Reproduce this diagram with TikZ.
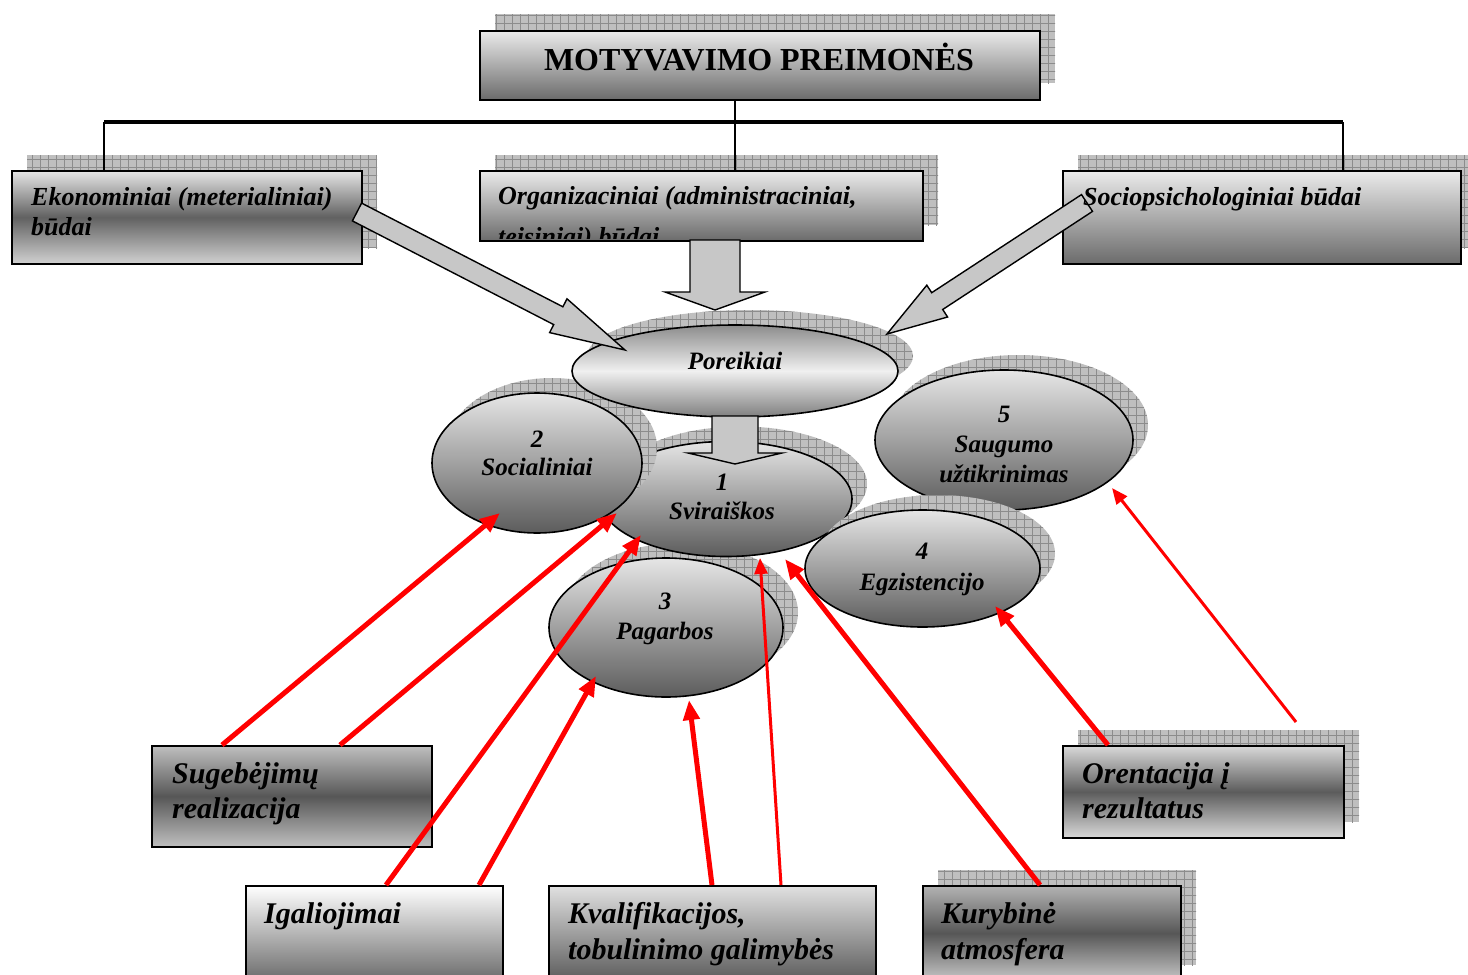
\documentclass[tikz,border=0pt]{standalone}
\usepackage{fontspec}
\setmainfont{Liberation Serif}
\usetikzlibrary{shapes.geometric,arrows.meta,patterns.meta,calc}
\begin{document}
\begin{tikzpicture}[x=1pt,y=-1pt,
  shadowfill/.style={fill=black!25, postaction={pattern={Hatch[distance=8pt,line width=0.5pt]}, pattern color=black!45}},
  boxnode/.style={rectangle, draw=black, line width=1.6pt, inner sep=0pt, anchor=north west},
  fadedown/.style={top color=black!8, bottom color=black!58},
  ell/.style={ellipse, draw=black, line width=1.6pt, inner sep=0pt, top color=black!10, bottom color=black!64},
  boxtxt/.style={anchor=base west, inner sep=0pt, font=\fontsize{26}{30}\selectfont\bfseries\itshape},
  bigtxt/.style={anchor=base west, inner sep=0pt, font=\fontsize{30}{36}\selectfont\bfseries\itshape},
  elltxt/.style={anchor=base, inner sep=0pt, font=\fontsize{25}{30}\selectfont\bfseries\itshape},
  blockarrow/.style={draw=black, line width=1.4pt, fill=black!22, line join=miter},
  redthick/.style={draw=red, line width=5pt, -{Triangle[length=20pt,width=16pt]}},
  redthin/.style={draw=red, line width=3pt, -{Triangle[length=16pt,width=13pt]}},
  bus/.style={draw=black, line width=4pt},
  drop/.style={draw=black, line width=2.6pt},
]
\useasboundingbox (0,0) rectangle (1468,975);
\clip (0,0) rectangle (1468,975);
\fill[white] (0,0) rectangle (1468,975);

% ---------- shadows of the upper boxes
\path[shadowfill] (495,14) rectangle (1055,83);
\path[shadowfill] (27,155) rectangle (377,248);
\path[shadowfill] (495,155) rectangle (938,225);
\path[shadowfill] (1078,155) rectangle (1476,248);

% ---------- upper boxes
\node[boxnode, fadedown, minimum width=560pt, minimum height=69pt] (title) at (479,30) {};
\node[boxnode, top color=black!10, bottom color=black!18, middle color=black!62, minimum width=350pt, minimum height=93pt] (eko) at (11,170) {};
\node[boxnode, fadedown, minimum width=443pt, minimum height=70pt] (org) at (479,170) {};
\node[boxnode, fadedown, minimum width=398pt, minimum height=93pt] (soc) at (1062,170) {};

% ---------- tree connectors
\coordinate (busL) at (104,122);
\coordinate (busM) at (735,122);
\coordinate (busR) at (1343,122);
\draw[line width=1.5pt] (busM |- title.south) -- (busM);
\draw[bus] (busL) -- (busR);
\draw[drop] (busL) -- (busL |- eko.north);
\draw[drop] (busM) -- (busM |- org.north);
\draw[drop] (busR) -- (busR |- soc.north);

% ---------- ellipses
\path[shadowfill] (1019,425) ellipse [x radius=129pt, y radius=70pt];
\node[ell, minimum width=258pt, minimum height=140pt] (e5) at (1004,440) {};
\path[shadowfill] (681,612.5) ellipse [x radius=117pt, y radius=69.5pt];
\node[ell, minimum width=234pt, minimum height=139pt] (e3) at (666,627.5) {};
\path[shadowfill] (741,484) ellipse [x radius=126pt, y radius=57.5pt];
\node[ell, minimum width=252pt, minimum height=115pt] (e1) at (726,499) {};
\path[shadowfill] (552,448) ellipse [x radius=105pt, y radius=70pt];
\node[ell, minimum width=210pt, minimum height=140pt] (e2) at (537,463) {};
\path[shadowfill] (937.5,553.5) ellipse [x radius=117.5pt, y radius=58.5pt];
\node[ell, minimum width=235pt, minimum height=117pt] (e4) at (922.5,568.5) {};
\path[shadowfill] (750,356) ellipse [x radius=163pt, y radius=46pt];
\node[ellipse, draw=black, line width=1.6pt, inner sep=0pt, top color=black!45, bottom color=black!50, middle color=black!6, minimum width=326pt, minimum height=92pt] (por) at (735,371) {};

% ---------- block arrows
\draw[blockarrow] (361.6,203.1) -- (562.9,306.8) -- (567.0,298.8) -- (625,350) -- (549.6,332.6) -- (553.7,324.6) -- (352.4,220.9) -- cycle;
\draw[blockarrow] (690,240) -- (690,292) -- (665,292) -- (715,310) -- (765,292) -- (740,292) -- (740,240) -- cycle;
\draw[blockarrow] (1081.5,194.6) -- (931.7,292.7) -- (926.8,285.2) -- (887,334) -- (947.6,317.0) -- (942.7,309.5) -- (1092.5,211.4) -- cycle;
\draw[blockarrow] (712,416) -- (712,453) -- (688,453) -- (735,464) -- (782,453) -- (758,453) -- (758,416) -- cycle;

% ---------- texts of the upper boxes
\node[anchor=base, inner sep=0pt, font=\fontsize{32}{36}\selectfont\bfseries] (titletxt) at (759,70) {MOTYVAVIMO PREIMONĖS};
\node[boxtxt] (eko1) at (31,205) {Ekonominiai (meterialiniai)};
\node[boxtxt] (eko2) at (31,235) {būdai};
\node[boxtxt] (org1) at (498,204) {Organizaciniai (administraciniai,};
\begin{scope}
  \clip (480,171) rectangle (921,238.5);
  \node[boxtxt] (org2) at (498,245) {teisiniai) būdai};
\end{scope}
\node[boxtxt] (soc1) at (1083,205) {Sociopsichologiniai būdai};

% ---------- texts of the ellipses
\node[elltxt] (port) at (735,369) {Poreikiai};
\node[elltxt] (e2a) at (537,447) {2};
\node[elltxt] (e2b) at (537,475) {Socialiniai};
\node[elltxt] (e1a) at (722,490) {1};
\node[elltxt] (e1b) at (722,519) {Sviraiškos};
\node[elltxt] (e3a) at (665,609) {3};
\node[elltxt] (e3b) at (665,639) {Pagarbos};
\node[elltxt] (e4a) at (922,559) {4};
\node[elltxt] (e4b) at (922,590) {Egzistencijo};
\node[elltxt] (e5a) at (1004,422) {5};
\node[elltxt] (e5b) at (1004,452) {Saugumo};
\node[elltxt] (e5c) at (1004,482) {užtikrinimas};

% ---------- lower boxes
\node[boxnode, top color=black!25, bottom color=black!25, middle color=black!66, minimum width=280pt, minimum height=101pt] (sug) at (151,745) {};
\path[shadowfill] (1078,730) rectangle (1359,822);
\node[boxnode, top color=black!15, bottom color=black!15, middle color=black!64, minimum width=281pt, minimum height=92pt] (ore) at (1062,745) {};
\node[boxnode, top color=white, bottom color=black!58, minimum width=257pt, minimum height=95pt] (iga) at (245,885) {};
\node[boxnode, top color=black!12, bottom color=black!64, minimum width=327pt, minimum height=95pt] (kva) at (548,885) {};
\path[shadowfill] (938,870) rectangle (1196,965);
\node[boxnode, top color=black!30, bottom color=black!22, middle color=black!66, minimum width=258pt, minimum height=95pt] (kur) at (922,885) {};

\node[bigtxt] (sug1) at (172,783) {Sugebėjimų};
\node[bigtxt] (sug2) at (172,818) {realizacija};
\node[bigtxt] (ore1) at (1082,783) {Orentacija į};
\node[bigtxt] (ore2) at (1082,818) {rezultatus};
\node[bigtxt] (iga1) at (264,923) {Igaliojimai};
\node[bigtxt] (kva1) at (568,923) {Kvalifikacijos,};
\node[bigtxt] (kva2) at (568,959) {tobulinimo galimybės};
\node[bigtxt] (kur1) at (941,923) {Kurybinė};
\node[bigtxt] (kur2) at (941,959) {atmosfera};

% ---------- red arrows
\coordinate (t1) at (500,513);
\coordinate (t2) at (617,513);
\coordinate (t3) at (641,535);
\coordinate (t4) at (596,676);
\coordinate (t5) at (689,700);
\coordinate (t6) at (760,558);
\coordinate (t7) at (785,559);
\coordinate (t8) at (995,606);
\coordinate (t9) at (1112,488);
\coordinate (s9) at (1296,722);
\draw[redthick] ($(sug.north west)+(71,0)$) -- (t1);
\draw[redthick] ($(sug.north west)+(189,0)$) -- (t2);
\draw[redthick] ($(iga.north west)+(141,0)$) -- (t3);
\draw[redthick] ($(iga.north west)+(234,0)$) -- (t4);
\draw[redthick] ($(kva.north west)+(164,0)$) -- (t5);
\draw[redthin] ($(kva.north west)+(233,0)$) -- (t6);
\draw[redthick] ($(kur.north west)+(118,0)$) -- (t7);
\draw[redthick] ($(ore.north west)+(46,0)$) -- (t8);
\draw[redthin] (s9) -- (t9);
\end{tikzpicture}
\end{document}
